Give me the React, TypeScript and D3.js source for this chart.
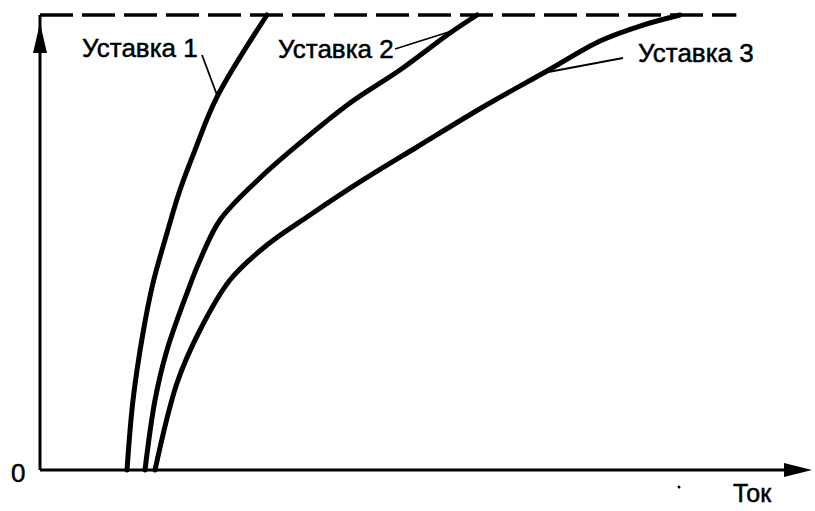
import React from "react";
import * as d3 from "d3";

// Curve data: [current (arb. units), time (% of max)]
const curve1X = [11.27, 12.05, 13.34, 14.64, 16.45, 18.13, 20.08, 22.93, 29.4];
const curve1Y = [0, 15.38, 30.11, 41.1, 52.09, 61.54, 70.33, 81.98, 100];
const curve2X = [13.6, 14.9, 16.45, 19.04, 20.73, 23.32, 28.5, 33.68, 40.16, 46.63, 53.11, 56.61];
const curve2Y = [0, 15.38, 26.37, 38.9, 46.15, 54.95, 64.18, 71.87, 80.66, 87.91, 96.04, 100];
const curve3X = [14.9, 17.75, 20.73, 24.61, 29.4, 34.97, 41.84, 48.83, 57.38, 65.67, 72.54, 77.72, 82.9];
const curve3Y = [0, 19.12, 30.77, 41.76, 49.45, 56.04, 63.74, 70.99, 79.78, 87.69, 94.29, 97.58, 100];
const seriesLabels = ["Уставка 1", "Уставка 2", "Уставка 3"];
const xAxisLabel = "Ток";
const originLabel = "0";
const limitY = 100;
const dashEndX = 90.2;

export default function App() {
  const W = 815, H = 511;
  const x = d3.scaleLinear().domain([0, 100]).range([40, 812]);
  const y = d3.scaleLinear().domain([0, 100]).range([470, 15]);
  const line = d3
    .line<[number, number]>()
    .x((d) => x(d[0]))
    .y((d) => y(d[1]))
    .curve(d3.curveCatmullRom.alpha(0.5));
  const curves = [
    curve1X.map((v, i) => [v, curve1Y[i]] as [number, number]),
    curve2X.map((v, i) => [v, curve2Y[i]] as [number, number]),
    curve3X.map((v, i) => [v, curve3Y[i]] as [number, number]),
  ];
  const font = "'Liberation Sans', Arial, sans-serif";
  const x0 = x(0), y0 = y(0);
  const xEnd = x(100);
  const yTop = y(limitY);
  return (
    <svg
      width={W}
      height={H}
      style={{ position: "absolute", left: 0, top: 0, background: "#fff" }}
    >
      <rect width={W} height={H} fill="#fff" />
      {/* dashed limit line */}
      <line
        x1={x0}
        x2={x(dashEndX)}
        y1={yTop}
        y2={yTop}
        stroke="#000"
        strokeWidth={3.5}
        strokeDasharray="33,9"
      />
      {/* y axis */}
      <line x1={x0} x2={x0} y1={y0} y2={yTop} stroke="#000" strokeWidth={3} />
      <path d={`M${x0},${yTop + 8} L${x0 - 7},${yTop + 38} L${x0 + 7},${yTop + 38} Z`} fill="#000" />
      {/* x axis */}
      <line x1={x0} x2={xEnd - 20} y1={y0} y2={y0} stroke="#000" strokeWidth={3} />
      <path d={`M${xEnd},${y0} L${xEnd - 28},${y0 - 7} L${xEnd - 28},${y0 + 7} Z`} fill="#000" />
      {/* curves */}
      {curves.map((c, i) => (
        <path key={i} d={line(c) || ""} fill="none" stroke="#000" strokeWidth={5} strokeLinecap="round" />
      ))}
      {/* leader lines */}
      <line x1={202} y1={55} x2={217} y2={95} stroke="#000" strokeWidth={1.8} />
      <line x1={395} y1={49} x2={455} y2={30} stroke="#000" strokeWidth={1.8} />
      <line x1={623} y1={58} x2={543} y2={73} stroke="#000" strokeWidth={1.8} />
      {/* labels */}
      <g fontFamily={font} fontSize={26} fill="#000" stroke="#000" strokeWidth={0.5}>
        <text x={82} y={57}>{seriesLabels[0]}</text>
        <text x={278} y={58}>{seriesLabels[1]}</text>
        <text x={638} y={62}>{seriesLabels[2]}</text>
        <text x={11} y={482}>{originLabel}</text>
        <text x={733} y={502} fontSize={25}>{xAxisLabel}</text>
      </g>
      <circle cx={679} cy={487} r={1.5} fill="#000" />
    </svg>
  );
}
